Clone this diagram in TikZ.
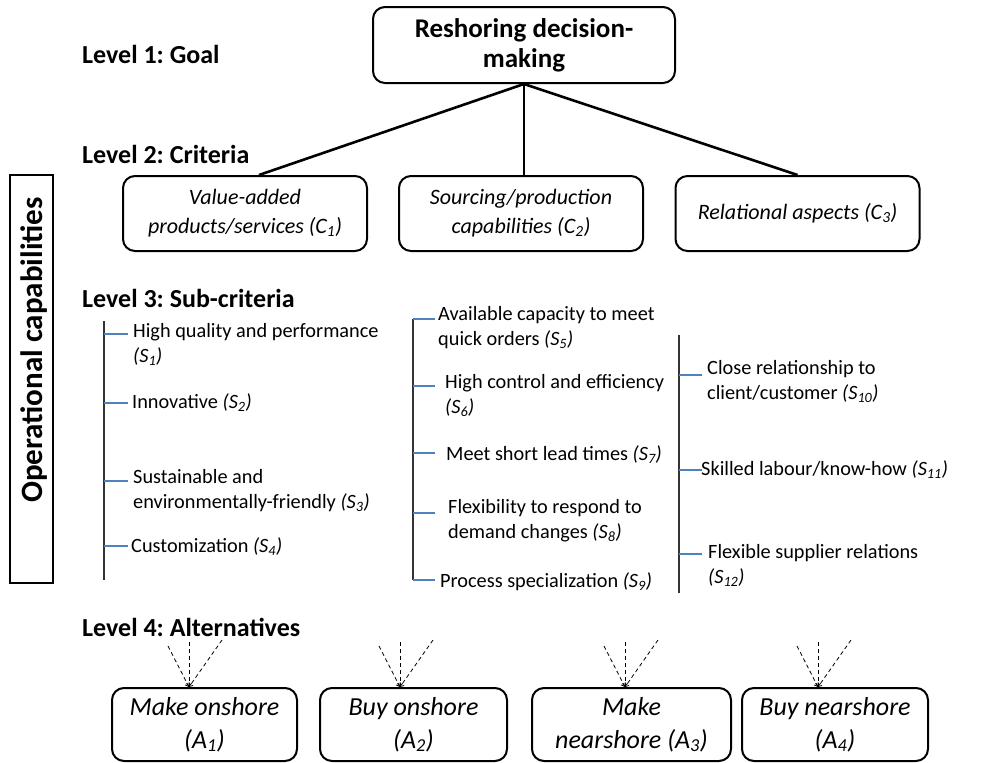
\documentclass[tikz,border=0pt]{standalone}
\usepackage{fontspec}
\setmainfont{Carlito}
\frenchspacing
\usetikzlibrary{arrows.meta}
\definecolor{tickblue}{RGB}{79,129,189}
\tikzset{
    goalbox/.style ={rectangle, rounded corners=12pt, draw, line width=2pt, minimum width=302pt, minimum height=76pt, align=center, font=\fontsize{27}{30}\selectfont\bfseries},
    critbox/.style ={rectangle, rounded corners=12pt, draw, line width=2pt, minimum width=244pt, minimum height=75pt, align=center, font=\fontsize{22}{29}\selectfont\itshape},
    altbox/.style ={rectangle, rounded corners=12pt, draw, line width=2pt, minimum height=73pt, align=center, font=\fontsize{26}{33}\selectfont\itshape},
    levellabel/.style ={anchor=base west, inner sep=0pt, font=\fontsize{26}{30}\selectfont\bfseries},
    subtext/.style ={anchor=north west, inner sep=0pt, yshift=17.5pt, align=left, font=\fontsize{20.3}{25}\selectfont, execute at begin node=\strut},
    subtick/.style ={tickblue, line width=1.2pt},
    subline/.style ={black!80, line width=1.4pt},
    treeline/.style ={line width=2.6pt},
    altarrow/.style ={dash pattern=on 4pt off 3pt, line width=0.8pt, -{Straight Barb[length=3pt,width=5pt]}}}

\begin{document}
\begin{tikzpicture}[x=1pt,y=-1pt]
        \useasboundingbox (0,0) rectangle (994,763);
        \node[levellabel] (L1) at (82,63){Level 1: Goal};
        \node[levellabel] (L2) at (82,163){Level 2: Criteria};
        \node[levellabel] (L3) at (82,307){Level 3: Sub-criteria};
        \node[levellabel] (L4) at (82,636){Level 4: Alternatives};
        \node[goalbox] (G) at (524,45){Reshoring decision-\\making};
        \node[critbox] (C1) at (245,213.5){Value-added\\products/services (C\textsubscript{1})};
        \node[critbox] (C2) at (521,213.5){Sourcing/production\\capabilities (C\textsubscript{2})};
        \node[critbox] (C3) at (797.5,213.5){Relational aspects (C\textsubscript{3})};
        \draw[treeline] (G.south) -- ([xshift=14pt]C1.north);
        \draw[treeline] (G.south) -- (G.south |- C2.north);
        \draw[treeline] (G.south) -- (C3.north);
        \node[draw, line width=2pt, minimum width=43pt, minimum height=408pt, inner sep=0pt] (OB) at (31.5,379){};
        \node[rotate=90, font=\fontsize{31}{31}\selectfont\bfseries] (OC) at (34,350){Operational capabilities};
        \coordinate (V1a) at (104,321);
        \coordinate (V1b) at (104,580);
        \coordinate (V2a) at (413,319);
        \coordinate (V2b) at (413,580);
        \coordinate (V3a) at (679,335);
        \coordinate (V3b) at (679,593);
        \draw[subline] (V1a) -- (V1b);
        \draw[subline] (V2a) -- (V2b);
        \draw[subline] (V3a) -- (V3b);
        \node[subtext] (S1) at (133,341){High quality and performance\\\textit{(S\textsubscript{1})}};
        \node[subtext] (S2) at (132,408){Innovative \textit{(S\textsubscript{2})}};
        \node[subtext] (S3) at (133,487){Sustainable and\\environmentally-friendly \textit{(S\textsubscript{3})}};
        \node[subtext] (S4) at (131,552){Customization \textit{(S\textsubscript{4})}};
        \node[subtext] (S5) at (438,324){Available capacity to meet\\quick orders \textit{(S\textsubscript{5})}};
        \node[subtext] (S6) at (445,392){High control and efficiency\\\textit{(S\textsubscript{6})}};
        \node[subtext] (S7) at (446,460){Meet short lead times \textit{(S\textsubscript{7})}};
        \node[subtext] (S8) at (448,517){Flexibility to respond to\\demand changes \textit{(S\textsubscript{8})}};
        \node[subtext] (S9) at (440,587){Process specialization \textit{(S\textsubscript{9})}};
        \node[subtext] (S10) at (707,378){Close relationship to\\client/customer \textit{(S\textsubscript{10})}};
        \node[subtext] (S11) at (701,475){Skilled labour/know-how \textit{(S\textsubscript{11})}};
        \node[subtext] (S12) at (708,562){Flexible supplier relations\\\textit{(S\textsubscript{12})}};
        \foreach \y in {334,403,481,546}
            \draw[subtick] (V1a |- 0,\y) -- ++(24,0);
        \foreach \y in {319,386,453,513,580}
            \draw[subtick] (V2a |- 0,\y) -- ++(22,0);
        \foreach \y in {375,470,554}
            \draw[subtick] (V3a |- 0,\y) -- ++(23,0);
        \node[altbox, minimum width=185pt] (A1) at (204.5,724.5){Make onshore\\(A\textsubscript{1})};
        \node[altbox, minimum width=187pt] (A2) at (413.5,724.5){Buy onshore\\(A\textsubscript{2})};
        \node[altbox, minimum width=199pt] (A3) at (631.5,724.5){Make\\nearshore (A\textsubscript{3})};
        \node[altbox, minimum width=186pt] (A4) at (835,724.5){Buy nearshore\\(A\textsubscript{4})};
        \coordinate (T1) at ([xshift=-15.5pt]A1.north);
        \coordinate (T2) at ([xshift=-13.5pt]A2.north);
        \coordinate (T3) at ([xshift=-6.5pt]A3.north);
        \coordinate (T4) at ([xshift=-17pt]A4.north);
        \foreach \t in {T1,T2,T3,T4}{
            \draw[altarrow] ([xshift=-21pt,yshift=41pt]\t) -- (\t);
            \draw[altarrow] ([yshift=45pt]\t) -- (\t);
            \draw[altarrow] ([xshift=33pt,yshift=47pt]\t) -- (\t);
        }
    \end{tikzpicture}
\end{document}
